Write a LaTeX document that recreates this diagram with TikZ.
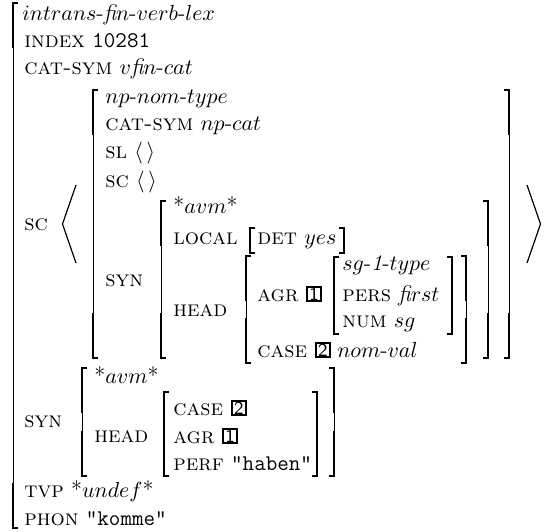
\documentclass[tikz,border=0pt]{standalone}
\usepackage{amsmath}
\newcommand\fs{\fontsize{11.2}{13}\selectfont}
\newcommand\FI{{\itshape fi}}
\newcommand\LBr[3]{%
  \draw[brthin] (#1+5,#2) -- (#1,#2) -- (#1,#3) -- (#1+5,#3);
  \draw[brthick] (#1+5,#2) -- (#1,#2) -- (#1,{min(#2+45,(#2+#3)/2)});
  \draw[brthick] (#1+5,#3) -- (#1,#3) -- (#1,{max(#3-45,(#2+#3)/2)});
}
\newcommand\RBr[3]{%
  \draw[brthin] (#1-5,#2) -- (#1,#2) -- (#1,#3) -- (#1-5,#3);
  \draw[brthick] (#1-5,#2) -- (#1,#2) -- (#1,{min(#2+45,(#2+#3)/2)});
  \draw[brthick] (#1-5,#3) -- (#1,#3) -- (#1,{max(#3-45,(#2+#3)/2)});
}
\tikzset{
  brthin/.style={line width=0.5pt},
  brthick/.style={line width=1pt},
  angl/.style={line width=0.6pt, line join=miter},
  txt/.style={anchor=base west, inner sep=0pt, font=\fs},
  tagbox/.style={draw, line width=1pt, inner sep=0pt, minimum size=7.2pt,
    anchor=south west, font=\sffamily\fontsize{9.2}{9.2}\selectfont},
}
\begin{document}
\begin{tikzpicture}[x=0.5pt,y=-0.5pt]
\useasboundingbox (0,0) rectangle (546,531);
% ---------- brackets ----------
\LBr{13}{3}{528}
% SC element
\LBr{93}{90}{358}
\RBr{509}{90}{358}
% inner SYN
\LBr{161}{201}{358}
\RBr{488}{201}{358}
% LOCAL [DET yes]
\LBr{250}{228}{253}
\RBr{344}{228}{253}
% HEAD
\LBr{246}{256}{363}
\RBr{466}{256}{363}
% AGR value
\LBr{334}{257}{334}
\RBr{452}{257}{334}
% lower SYN
\LBr{82}{368}{476}
\RBr{334}{368}{476}
% lower HEAD
\LBr{164}{392}{476}
\RBr{317}{392}{476}
% angle brackets of the SC list
\draw[angl] (76,185) -- (62.5,224) -- (76,263);
\draw[angl] (527,185) -- (540.5,224) -- (527,263);
% ---------- text ----------
\node[txt] (t0) at (22,20) {$intrans$-\FI$n$-$verb$-$lex$};
\node[txt] (idx) at (24,47) {\textsc{index} \texttt{10281}};
\node[txt] (cs) at (24,74) {\textsc{cat-sym} $v$\FI$n$-$cat$};
\node[txt] (sc) at (24,230) {\textsc{sc}};
% SC element
\node[txt] (np) at (105,103) {$np$-$nom$-$type$};
\node[txt] (cs2) at (105,130) {\textsc{cat-sym} $np$-$cat$};
\node[txt] (sl) at (105,158) {\textsc{sl} $\langle\,\rangle$};
\node[txt] (sc2) at (105,187) {\textsc{sc} $\langle\,\rangle$};
\node[txt] (syn) at (105,286) {\textsc{syn}};
\node[txt] (avm) at (173,213) {*$avm$*};
\node[txt] (loc) at (173,244) {\textsc{local}};
\node[txt] (det) at (257,244) {\textsc{det} $yes$};
\node[txt] (head) at (173,316) {\textsc{head}};
\node[txt] (agr) at (257,301) {\textsc{agr}};
\node[tagbox] (b1) at ([shift={(7,1)}]agr.base east) {1};
\node[txt] (sgt) at (342,270) {$sg$-\textit{1}-$type$};
\node[txt] (pers) at (342,301) {\textsc{pers} \FI$rst$};
\node[txt] (num) at (342,327) {\textsc{num} $sg$};
\node[txt] (case) at (257,357) {\textsc{case}};
\node[tagbox] (b2) at ([shift={(7,1)}]case.base east) {2};
\node[txt] (nomval) at ([xshift=3]b2.east |- case.base) {$nom$-$val$};
% lower SYN
\node[txt] (syn2) at (24,427) {\textsc{syn}};
\node[txt] (avm2) at (94,383) {*$avm$*};
\node[txt] (head2) at (94,442) {\textsc{head}};
\node[txt] (case2) at (173,415) {\textsc{case}};
\node[tagbox] (b3) at ([shift={(7,1)}]case2.base east) {2};
\node[txt] (agr2) at (173,443) {\textsc{agr}};
\node[tagbox] (b4) at ([shift={(7,1)}]agr2.base east) {1};
\node[txt] (perf) at (173,470) {\textsc{perf} \texttt{"haben"}};
\node[txt] (tvp) at (24,497) {\textsc{tvp} *$undef$*};
\node[txt] (phon) at (24,525) {\textsc{phon} \texttt{"komme"}};
\end{tikzpicture}
\end{document}
